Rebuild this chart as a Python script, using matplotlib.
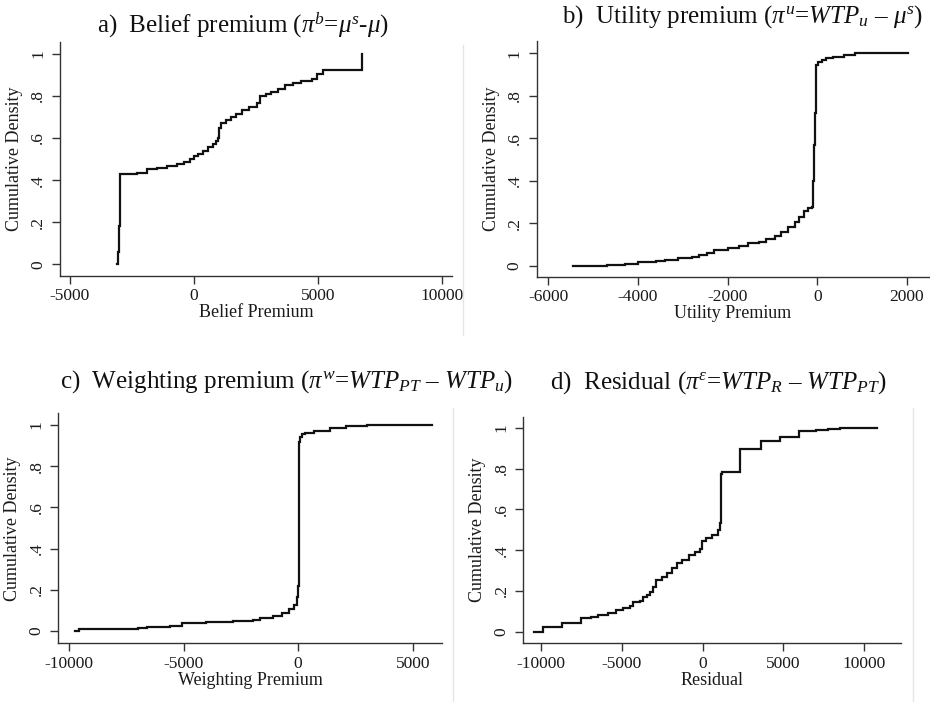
import matplotlib
matplotlib.use("Agg")
import matplotlib.pyplot as plt
from matplotlib.lines import Line2D

plt.rcParams['font.family'] = ['Liberation Serif', 'DejaVu Serif']
plt.rcParams['mathtext.fontset'] = 'custom'
plt.rcParams['mathtext.rm'] = 'Liberation Serif'
plt.rcParams['mathtext.it'] = 'Liberation Serif:italic'
plt.rcParams['mathtext.bf'] = 'Liberation Serif:bold'

# ---------------- data (empirical CDF step points) ----------------
belief_x = [-3100, -3060, -3030, -3000, -2300, -1900, -1500, -1100, -700, -400, -150, 0,
            150, 350, 550, 750, 900, 970, 1000, 1100, 1300, 1500, 1700, 1950, 2200, 2550,
            2650, 2900, 3100, 3400, 3650, 4000, 4300, 4750, 4950, 5200, 6790]
belief_y = [0.0, 0.06, 0.18, 0.43, 0.435, 0.45, 0.455, 0.465, 0.475, 0.485, 0.50, 0.515,
            0.525, 0.54, 0.555, 0.57, 0.585, 0.60, 0.645, 0.67, 0.685, 0.70, 0.715, 0.73,
            0.745, 0.765, 0.80, 0.81, 0.82, 0.83, 0.85, 0.86, 0.87, 0.88, 0.905, 0.92, 1.0]

utility_x = [-5450, -4700, -4300, -4000, -3600, -3400, -3100, -2800, -2650, -2450, -2300,
             -2000, -1750, -1550, -1300, -1150, -950, -800, -650, -500, -400, -300, -200,
             -110, -95, -80, -60, -40, -20, 20, 100, 200, 350, 600, 850, 2030]
utility_y = [0.0, 0.005, 0.01, 0.015, 0.02, 0.027, 0.035, 0.042, 0.05, 0.058, 0.072,
             0.082, 0.093, 0.105, 0.112, 0.125, 0.14, 0.16, 0.18, 0.205, 0.23, 0.255, 0.27,
             0.278, 0.40, 0.57, 0.72, 0.85, 0.945, 0.96, 0.97, 0.978, 0.984, 0.99, 1.0, 1.0]

weighting_x = [-9750, -9550, -7000, -6600, -5600, -5050, -4000, -2850, -1950, -1650, -1100,
               -700, -400, -200, -60, -10, 20, 40, 60, 150, 300, 700, 1400, 2100, 3000, 5850]
weighting_y = [0.0, 0.01, 0.013, 0.018, 0.024, 0.037, 0.044, 0.047, 0.054, 0.062, 0.073,
               0.086, 0.105, 0.126, 0.163, 0.22, 0.83, 0.92, 0.94, 0.956, 0.963, 0.97,
               0.984, 0.995, 1.0, 1.0]

residual_x = [-10450, -9850, -8700, -7500, -6900, -6500, -5850, -5350, -4950, -4500, -4300,
              -3900, -3700, -3450, -3250, -3050, -2850, -2500, -2200, -1900, -1600, -1250,
              -850, -450, -150, -20, 200, 580, 950, 1060, 1140, 1180, 2340, 3600, 4800,
              6000, 7000, 7800, 8500, 10800]
residual_y = [0.0, 0.021, 0.044, 0.065, 0.074, 0.082, 0.093, 0.106, 0.118, 0.126, 0.145,
              0.152, 0.168, 0.18, 0.196, 0.22, 0.253, 0.27, 0.29, 0.31, 0.335, 0.351,
              0.376, 0.392, 0.404, 0.446, 0.458, 0.474, 0.498, 0.531, 0.775, 0.784, 0.897,
              0.935, 0.955, 0.984, 0.99, 0.996, 1.0, 1.0]

y_ticks = [0, 0.2, 0.4, 0.6, 0.8, 1.0]
y_ticklabels = ['0', '.2', '.4', '.6', '.8', '1']

panels = [
    dict(x=belief_x, y=belief_y, xlabel='Belief Premium',
         xticks=[-5000, 0, 5000, 10000], xlim=(-5403, 10403), ylim=(-0.0555, 1.055),
         box=(60, 452, 42, 276),
         title=r'a)  Belief premium ($\pi^b$=$\mu^s$-$\mu$)', tpos=(97, 32)),
    dict(x=utility_x, y=utility_y, xlabel='Utility Premium',
         xticks=[-6000, -4000, -2000, 0, 2000], xlim=(-6259, 2491), ylim=(-0.052, 1.059),
         box=(536.7, 929, 40.7, 276.7),
         title=r'b)  Utility premium ($\pi^u$=$WTP_u$ – $\mu^s$)', tpos=(562, 23)),
    dict(x=weighting_x, y=weighting_y, xlabel='Weighting Premium',
         xticks=[-10000, -5000, 0, 5000], xlim=(-10467, 6266), ylim=(-0.06, 1.057),
         box=(58.3, 441.7, 413.3, 643.3),
         title=r'c)  Weighting premium ($\pi^w$=$WTP_{PT}$ – $WTP_u$)', tpos=(60, 388)),
    dict(x=residual_x, y=residual_y, xlabel='Residual',
         xticks=[-10000, -5000, 0, 5000, 10000], xlim=(-11096, 12291), ylim=(-0.057, 1.054),
         box=(523.3, 901, 416.7, 643.3),
         title=r'd)  Residual ($\pi^\varepsilon$=$WTP_R$ – $WTP_{PT}$)', tpos=(550, 389)),
]

W, H = 930, 702
fig = plt.figure(figsize=(W / 100, H / 100), dpi=100)
fig.patch.set_facecolor('white')

txt = '#1a1a1a'
for p in panels:
    l, r, t, b = p['box']
    ax = fig.add_axes([l / W, 1 - b / H, (r - l) / W, (b - t) / H])
    ax.plot(p['x'], p['y'], drawstyle='steps-post', color='#111111', lw=1.6,
            solid_joinstyle='miter')
    ax.set_xlim(*p['xlim'])
    ax.set_ylim(*p['ylim'])
    ax.set_xticks(p['xticks'])
    ax.set_xticklabels([str(v) for v in p['xticks']])
    ax.set_yticks(y_ticks)
    ax.set_yticklabels(y_ticklabels)
    for s in ['top', 'right']:
        ax.spines[s].set_visible(False)
    for s in ['left', 'bottom']:
        ax.spines[s].set_color('#333333')
        ax.spines[s].set_linewidth(1.0)
    ax.tick_params(axis='both', direction='out', length=6, width=1.0, color='#333333',
                   labelsize=12.5, labelcolor=txt, pad=3)
    ax.tick_params(axis='y', labelrotation=90, pad=4)
    for lab in ax.get_yticklabels():
        lab.set_va('center')
    ax.set_xlabel(p['xlabel'], fontsize=13, color=txt, labelpad=0)
    ax.set_ylabel('Cumulative Density', fontsize=13, color=txt, labelpad=5)
    ax.set_facecolor('white')
    tx, ty = p['tpos']
    fig.text(tx / W, 1 - ty / H, p['title'], fontsize=18, color='#111111',
             ha='left', va='baseline')

# faint screenshot edge lines
edge = '#e3e6e8'
for (x0, y0, y1) in [(463, 45, 335), (453, 408, 702), (913, 408, 702)]:
    fig.add_artist(Line2D([x0 / W, x0 / W], [1 - y0 / H, 1 - y1 / H], color=edge, lw=1))

fig.savefig('out.png', dpi=100, facecolor='white')
